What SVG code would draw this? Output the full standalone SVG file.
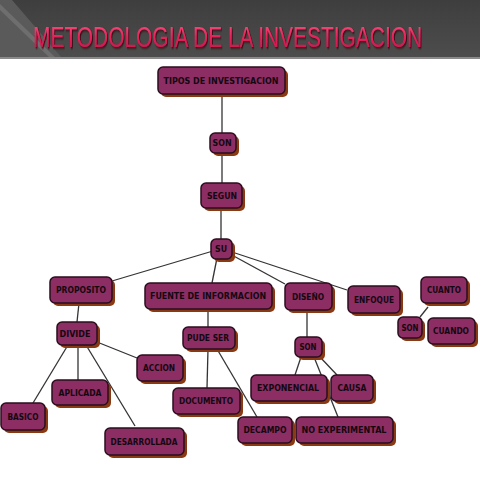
<svg xmlns="http://www.w3.org/2000/svg" width="480" height="480" viewBox="0 0 480 480">
<defs>
<linearGradient id="hdr" x1="0" y1="0" x2="0" y2="1">
<stop offset="0" stop-color="#3e3e3e"/>
<stop offset="1" stop-color="#4d4d4d"/>
</linearGradient>
<linearGradient id="ttl" x1="0" y1="0" x2="0" y2="1">
<stop offset="0" stop-color="#ff5a86"/>
<stop offset="0.5" stop-color="#e8235a"/>
<stop offset="1" stop-color="#c01448"/>
</linearGradient>
<filter id="tsh" x="-5%" y="-30%" width="110%" height="160%">
<feDropShadow dx="1.5" dy="1.5" stdDeviation="0.8" flood-color="#3a0010" flood-opacity="0.9"/>
</filter>
</defs>
<style>
.sh{fill:#8a3a12}
.bx{fill:#8c2d64;stroke:#2a0e1e;stroke-width:1.5}
.lb{font-family:"DejaVu Sans",sans-serif;font-weight:bold;font-size:9.5px;fill:#140810;text-anchor:middle}
.cn line{stroke:#333;stroke-width:1.3}
</style>
<rect width="480" height="480" fill="#ffffff"/>
<g id="header">
<rect x="0" y="0" width="480" height="58" fill="url(#hdr)"/>
<polygon points="0,0 12,0 62,58 0,58" fill="#5a5a5a"/>
<polygon points="0,4 56,58 50,58 0,10" fill="#6e6e6e"/>
<rect x="0" y="57" width="480" height="2" fill="#8a8a8a"/>
<text transform="translate(33,47) scale(0.64,1)" x="0" y="0" font-family="Liberation Sans,sans-serif" font-size="30" fill="url(#ttl)" filter="url(#tsh)" textLength="608" lengthAdjust="spacingAndGlyphs">METODOLOGIA DE LA INVESTIGACION</text>
</g>
<g id="connectors" class="cn">
<line x1="222" y1="94" x2="222" y2="133"/>
<line x1="222" y1="153" x2="222" y2="183"/>
<line x1="221" y1="208" x2="221" y2="239"/>
<line x1="213" y1="251" x2="112" y2="281"/>
<line x1="217" y1="258" x2="212" y2="283"/>
<line x1="230" y1="254" x2="285" y2="284"/>
<line x1="232" y1="252" x2="347" y2="290"/>
<line x1="79" y1="303" x2="77" y2="322"/>
<line x1="208" y1="309" x2="208" y2="328"/>
<line x1="68" y1="345" x2="33" y2="403"/>
<line x1="78" y1="345" x2="78" y2="380"/>
<line x1="86" y1="345" x2="135" y2="426"/>
<line x1="97" y1="342" x2="137" y2="358"/>
<line x1="208" y1="349" x2="207" y2="388"/>
<line x1="217" y1="349" x2="257" y2="417"/>
<line x1="307" y1="311" x2="307" y2="337"/>
<line x1="301" y1="357" x2="295" y2="375"/>
<line x1="320" y1="357" x2="337" y2="375"/>
<line x1="314" y1="357" x2="338" y2="417"/>
<line x1="420" y1="317" x2="428" y2="307"/>
</g>
<g id="n-tipos"><rect class="sh" x="161" y="70" width="127" height="27" rx="5"/><rect class="bx" x="158" y="67" width="127" height="27" rx="5"/><text class="lb" x="221" y="84" textLength="115" lengthAdjust="spacingAndGlyphs">TIPOS DE INVESTIGACION</text></g>
<g id="n-son1"><rect class="sh" x="213" y="136" width="26" height="20" rx="5"/><rect class="bx" x="210" y="133" width="26" height="20" rx="5"/><text class="lb" x="222" y="146" textLength="19" lengthAdjust="spacingAndGlyphs">SON</text></g>
<g id="n-segun"><rect class="sh" x="204" y="186" width="41" height="25" rx="5"/><rect class="bx" x="201" y="183" width="41" height="25" rx="5"/><text class="lb" x="222" y="199" textLength="30" lengthAdjust="spacingAndGlyphs">SEGUN</text></g>
<g id="n-su"><rect class="sh" x="214" y="242" width="21" height="20" rx="5"/><rect class="bx" x="211" y="239" width="21" height="20" rx="5"/><text class="lb" x="221" y="252" textLength="12" lengthAdjust="spacingAndGlyphs">SU</text></g>
<g id="n-proposito"><rect class="sh" x="53" y="280" width="62" height="26" rx="5"/><rect class="bx" x="50" y="277" width="62" height="26" rx="5"/><text class="lb" x="81" y="293" textLength="50" lengthAdjust="spacingAndGlyphs">PROPOSITO</text></g>
<g id="n-fuente"><rect class="sh" x="148" y="286" width="127" height="26" rx="5"/><rect class="bx" x="145" y="283" width="127" height="26" rx="5"/><text class="lb" x="208" y="299" textLength="116" lengthAdjust="spacingAndGlyphs">FUENTE DE INFORMACION</text></g>
<g id="n-diseno"><rect class="sh" x="288" y="286" width="47" height="27" rx="5"/><rect class="bx" x="285" y="283" width="47" height="27" rx="5"/><text class="lb" x="308" y="300" textLength="32" lengthAdjust="spacingAndGlyphs">DISEÑO</text></g>
<g id="n-enfoque"><rect class="sh" x="351" y="289" width="52" height="27" rx="5"/><rect class="bx" x="348" y="286" width="52" height="27" rx="5"/><text class="lb" x="374" y="303" textLength="40" lengthAdjust="spacingAndGlyphs">ENFOQUE</text></g>
<g id="n-cuanto"><rect class="sh" x="424" y="280" width="46" height="26" rx="5"/><rect class="bx" x="421" y="277" width="46" height="26" rx="5"/><text class="lb" x="444" y="293" textLength="34" lengthAdjust="spacingAndGlyphs">CUANTO</text></g>
<g id="n-son3"><rect class="sh" x="401" y="320" width="24" height="21" rx="5"/><rect class="bx" x="398" y="317" width="24" height="21" rx="5"/><text class="lb" x="410" y="331" textLength="17" lengthAdjust="spacingAndGlyphs">SON</text></g>
<g id="n-cuando"><rect class="sh" x="431" y="321" width="47" height="26" rx="5"/><rect class="bx" x="428" y="318" width="47" height="26" rx="5"/><text class="lb" x="451" y="334" textLength="36" lengthAdjust="spacingAndGlyphs">CUANDO</text></g>
<g id="n-divide"><rect class="sh" x="60" y="325" width="40" height="23" rx="5"/><rect class="bx" x="57" y="322" width="40" height="23" rx="5"/><text class="lb" x="75" y="337" textLength="31" lengthAdjust="spacingAndGlyphs">DIVIDE</text></g>
<g id="n-pudeser"><rect class="sh" x="186" y="330" width="52" height="22" rx="5"/><rect class="bx" x="183" y="327" width="52" height="22" rx="5"/><text class="lb" x="208" y="341" textLength="42" lengthAdjust="spacingAndGlyphs">PUDE SER</text></g>
<g id="n-son2"><rect class="sh" x="298" y="340" width="27" height="20" rx="5"/><rect class="bx" x="295" y="337" width="27" height="20" rx="5"/><text class="lb" x="308" y="350" textLength="17" lengthAdjust="spacingAndGlyphs">SON</text></g>
<g id="n-accion"><rect class="sh" x="140" y="358" width="46" height="26" rx="5"/><rect class="bx" x="137" y="355" width="46" height="26" rx="5"/><text class="lb" x="159" y="371" textLength="32" lengthAdjust="spacingAndGlyphs">ACCION</text></g>
<g id="n-aplicada"><rect class="sh" x="55" y="383" width="56" height="25" rx="5"/><rect class="bx" x="52" y="380" width="56" height="25" rx="5"/><text class="lb" x="80" y="396" textLength="43" lengthAdjust="spacingAndGlyphs">APLICADA</text></g>
<g id="n-basico"><rect class="sh" x="4" y="406" width="44" height="27" rx="5"/><rect class="bx" x="1" y="403" width="44" height="27" rx="5"/><text class="lb" x="23" y="420" textLength="31" lengthAdjust="spacingAndGlyphs">BASICO</text></g>
<g id="n-desarrollada"><rect class="sh" x="108" y="431" width="79" height="27" rx="5"/><rect class="bx" x="105" y="428" width="79" height="27" rx="5"/><text class="lb" x="144" y="445" textLength="67" lengthAdjust="spacingAndGlyphs">DESARROLLADA</text></g>
<g id="n-documento"><rect class="sh" x="176" y="391" width="67" height="26" rx="5"/><rect class="bx" x="173" y="388" width="67" height="26" rx="5"/><text class="lb" x="206" y="404" textLength="54" lengthAdjust="spacingAndGlyphs">DOCUMENTO</text></g>
<g id="n-exponencial"><rect class="sh" x="254" y="378" width="76" height="26" rx="5"/><rect class="bx" x="251" y="375" width="76" height="26" rx="5"/><text class="lb" x="288" y="391" textLength="62" lengthAdjust="spacingAndGlyphs">EXPONENCIAL</text></g>
<g id="n-causa"><rect class="sh" x="334" y="378" width="42" height="26" rx="5"/><rect class="bx" x="331" y="375" width="42" height="26" rx="5"/><text class="lb" x="352" y="391" textLength="29" lengthAdjust="spacingAndGlyphs">CAUSA</text></g>
<g id="n-decampo"><rect class="sh" x="241" y="420" width="54" height="26" rx="5"/><rect class="bx" x="238" y="417" width="54" height="26" rx="5"/><text class="lb" x="265" y="433" textLength="43" lengthAdjust="spacingAndGlyphs">DECAMPO</text></g>
<g id="n-noexp"><rect class="sh" x="299" y="420" width="97" height="26" rx="5"/><rect class="bx" x="296" y="417" width="97" height="26" rx="5"/><text class="lb" x="344" y="433" textLength="85" lengthAdjust="spacingAndGlyphs">NO EXPERIMENTAL</text></g>
</svg>
